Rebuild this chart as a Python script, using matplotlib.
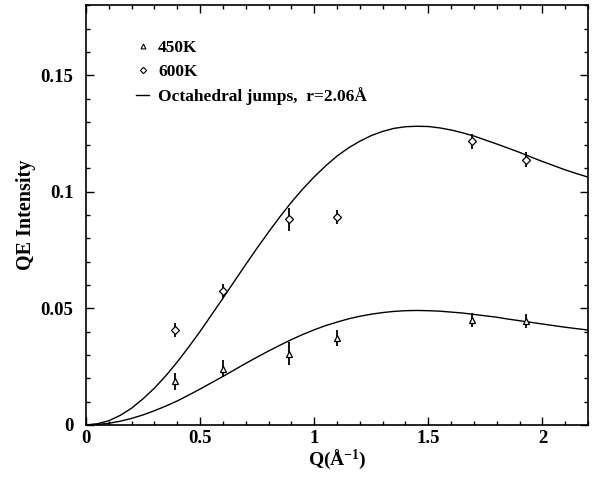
#!/usr/bin/env python3
# QE intensity vs Q, two temperatures + octahedral jump model curves

import matplotlib
matplotlib.use("Agg")
import matplotlib.pyplot as plt
from matplotlib.lines import Line2D
from matplotlib.ticker import MultipleLocator

q_pts = [0.39, 0.60, 0.89, 1.10, 1.69, 1.93]
i_450 = [0.0187, 0.0242, 0.0306, 0.0373, 0.0448, 0.0445]
e_450 = [0.0035, 0.0038, 0.0050, 0.0034, 0.0030, 0.0030]
i_600 = [0.0406, 0.0573, 0.0882, 0.0890, 0.1216, 0.1138]
e_600 = [0.0030, 0.0030, 0.0050, 0.0030, 0.0032, 0.0032]

# model curves (every 0.05)
q_fit = [0.00, 0.05, 0.10, 0.15, 0.20, 0.25, 0.30, 0.35, 0.40, 0.45,
         0.50, 0.55, 0.60, 0.65, 0.70, 0.75, 0.80, 0.85, 0.90, 0.95,
         1.00, 1.05, 1.10, 1.15, 1.20, 1.25, 1.30, 1.35, 1.40, 1.45,
         1.50, 1.55, 1.60, 1.65, 1.70, 1.75, 1.80, 1.85, 1.90, 1.95,
         2.00, 2.05, 2.10, 2.15, 2.20]
fit_600 = [0.0, 0.0005, 0.0018, 0.0041, 0.0072, 0.0112, 0.0158, 0.0211,
           0.0270, 0.0334, 0.0401, 0.0472, 0.0543, 0.0616, 0.0688, 0.0759,
           0.0827, 0.0893, 0.0955, 0.1012, 0.1064, 0.1111, 0.1153, 0.1188,
           0.1217, 0.1241, 0.1259, 0.1272, 0.1279, 0.1281, 0.1280, 0.1274,
           0.1265, 0.1253, 0.1239, 0.1222, 0.1205, 0.1187, 0.1169, 0.1149,
           0.1130, 0.1112, 0.1094, 0.1078, 0.1063]
fit_450 = [0.0, 0.0002, 0.0007, 0.0016, 0.0028, 0.0043, 0.0061, 0.0081,
           0.0103, 0.0128, 0.0154, 0.0181, 0.0208, 0.0236, 0.0264, 0.0291,
           0.0317, 0.0342, 0.0366, 0.0388, 0.0408, 0.0426, 0.0441, 0.0455,
           0.0466, 0.0475, 0.0482, 0.0487, 0.0490, 0.0491, 0.0490, 0.0488,
           0.0484, 0.0480, 0.0474, 0.0468, 0.0462, 0.0454, 0.0447, 0.0440,
           0.0433, 0.0426, 0.0419, 0.0413, 0.0407]

legend_labels = ["450K", "600K", "Octahedral jumps,  r=2.06\u00c5"]

plt.rcParams["font.family"] = ["Liberation Serif", "DejaVu Serif"]
plt.rcParams["font.weight"] = "bold"
plt.rcParams["mathtext.default"] = "regular"

fig = plt.figure(figsize=(5.97, 4.78), dpi=100)
ax = fig.add_axes([0.144, 0.111, 0.841, 0.878])

ax.plot(q_fit, fit_600, color="black", lw=1.0)
ax.plot(q_fit, fit_450, color="black", lw=1.0)

ax.errorbar(q_pts, i_450, yerr=e_450, fmt="^", ms=4, mfc="white", mec="black",
            mew=0.9, ecolor="black", elinewidth=1.3, capsize=0)
ax.errorbar(q_pts, i_600, yerr=e_600, fmt="D", ms=3.8, mfc="white", mec="black",
            mew=0.9, ecolor="black", elinewidth=1.3, capsize=0)

ax.set_xlim(0, 2.2)
ax.set_ylim(0, 0.18)
ax.xaxis.set_minor_locator(MultipleLocator(0.1))
ax.yaxis.set_minor_locator(MultipleLocator(0.01))
ax.set_xticks([0, 0.5, 1, 1.5, 2])
ax.set_xticklabels(["0", "0.5", "1", "1.5", "2"])
ax.set_yticks([0, 0.05, 0.1, 0.15])
ax.set_yticklabels(["0", "0.05", "0.1", "0.15"])
ax.tick_params(which="both", direction="in", top=True, right=True, width=1.0,
               labelsize=13.5)
ax.tick_params(axis="y", pad=9)
ax.tick_params(axis="x", pad=4)
ax.tick_params(which="major", length=6)
ax.tick_params(which="minor", length=3)
for s in ax.spines.values():
    s.set_linewidth(1.2)

ax.set_xlabel("Q(\u00c5$^{-1}$)", fontsize=14, fontweight="bold", labelpad=0)
ax.set_ylabel("QE Intensity", fontsize=14.5, fontweight="bold", labelpad=3)

handles = [
    Line2D([], [], ls="none", marker="^", ms=3.5, mfc="white", mec="black", mew=0.8),
    Line2D([], [], ls="none", marker="D", ms=3.2, mfc="white", mec="black", mew=0.8),
    Line2D([], [], color="black", lw=1.0),
]
ax.legend(handles, legend_labels, loc="upper left", bbox_to_anchor=(0.085, 0.935),
          frameon=False, fontsize=12.5, handlelength=0.8, handletextpad=0.5,
          labelspacing=0.45, borderaxespad=0)

fig.savefig("out.png", dpi=100)
